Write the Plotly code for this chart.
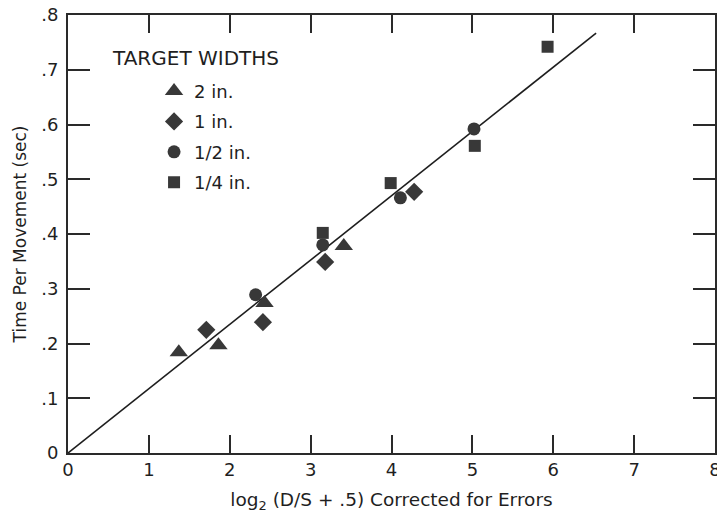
import plotly.graph_objects as go

# Data
tri_x = [1.37, 1.86, 2.43, 3.41]
tri_y = [0.184, 0.197, 0.274, 0.378]
dia_x = [1.71, 2.41, 3.18, 4.28]
dia_y = [0.225, 0.239, 0.349, 0.477]
cir_x = [2.32, 3.15, 4.11, 5.02]
cir_y = [0.289, 0.380, 0.466, 0.592]
sq_x = [3.15, 3.99, 5.03, 5.93]
sq_y = [0.402, 0.493, 0.561, 0.742]
fit_x = [0, 6.53]
fit_y = [0, 0.767]

x_ticks = [0, 1, 2, 3, 4, 5, 6, 7, 8]
x_ticklabels = ["0", "1", "2", "3", "4", "5", "6", "7", "8"]
y_ticks = [0, 0.1, 0.2, 0.3, 0.4, 0.5, 0.6, 0.7, 0.8]
y_ticklabels = ["0", ".1", ".2", ".3", ".4", ".5", ".6", ".7", ".8"]

FONT = "DejaVu Sans"
TXT = "#1f1f1f"
MK = "#383838"

fig = go.Figure()
fig.add_trace(go.Scatter(x=fit_x, y=fit_y, mode="lines",
                         line=dict(color="#1e1e1e", width=1.6),
                         showlegend=False, hoverinfo="skip"))
series = [
    ("2 in.", tri_x, tri_y, "triangle-up", 16),
    ("1 in.", dia_x, dia_y, "diamond", 14),
    ("1/2 in.", cir_x, cir_y, "circle", 13),
    ("1/4 in.", sq_x, sq_y, "square", 12),
]
for i, (name, xs, ys, sym, sz) in enumerate(series):
    fig.add_trace(go.Scatter(x=xs, y=ys, mode="markers", name=name,
                             legendgroup=str(i),
                             marker=dict(symbol=sym, size=sz, color=MK,
                                         line=dict(width=0))))

axis_common = dict(showgrid=False, zeroline=False, showline=True,
                   linecolor="#2a2a2a", linewidth=1.7, mirror="ticks",
                   ticks="inside", tickcolor="#2a2a2a", tickwidth=1.6,
                   automargin=False,
                   tickfont=dict(family=FONT, size=18, color=TXT))

fig.update_layout(
    width=717, height=521,
    margin=dict(l=68, r=2, t=15, b=68, autoexpand=False),
    paper_bgcolor="white", plot_bgcolor="white",
    font=dict(family=FONT, color=TXT),
    xaxis=dict(range=[0, 8], tickvals=x_ticks, ticktext=x_ticklabels,
               ticklen=18, ticklabeloverflow="allow",
               title=dict(text="log<sub>2</sub> (D/S + .5) Corrected for Errors",
                          font=dict(family=FONT, size=18.5, color=TXT),
                          standoff=14),
               **axis_common),
    yaxis=dict(range=[0, 0.8], tickvals=y_ticks, ticktext=y_ticklabels,
               ticklen=22, ticklabelstandoff=4,
               title=dict(text="Time Per Movement (sec)",
                          font=dict(family=FONT, size=17, color=TXT),
                          standoff=10),
               **axis_common),
    legend=dict(x=0.133, y=0.868, xanchor="left", yanchor="top",
                bgcolor="rgba(0,0,0,0)", traceorder="grouped",
                tracegroupgap=4,
                font=dict(family=FONT, size=18, color=TXT)),
    annotations=[dict(text="TARGET WIDTHS", xref="paper", yref="paper",
                      x=0.065, y=0.902, xanchor="left", yanchor="middle",
                      showarrow=False,
                      font=dict(family=FONT, size=20, color=TXT))],
)

fig.write_html("out.html")
